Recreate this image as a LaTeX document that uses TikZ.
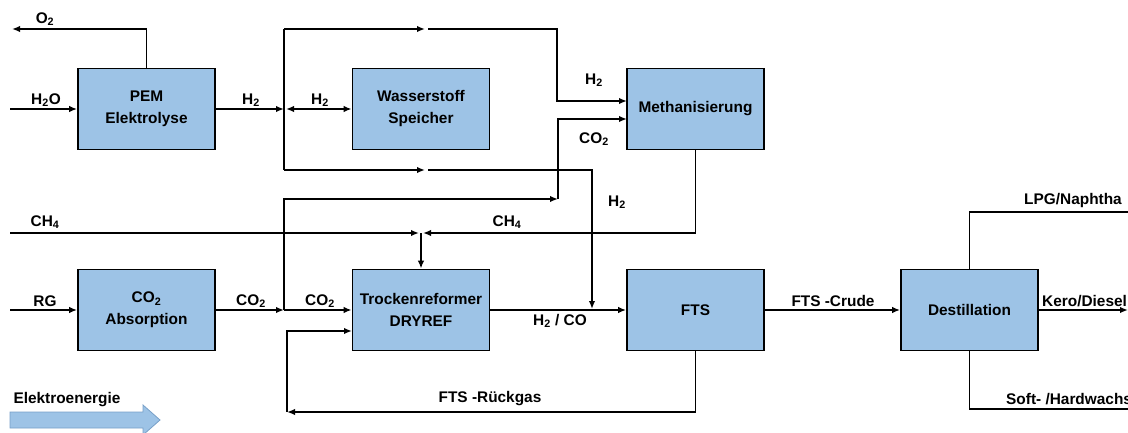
\documentclass[tikz,border=0pt]{standalone}
\usepackage{fontspec}
\setmainfont{Liberation Sans}
\usetikzlibrary{arrows.meta, positioning}

\definecolor{boxblue}{RGB}{157,195,230}
\definecolor{boxedge}{RGB}{120,160,200}

\begin{document}
\begin{tikzpicture}[x=1pt, y=-1pt,
        every node/.style={font=\fontsize{15.4}{22}\selectfont\bfseries},
        unitbox/.style={draw, line width=1.8pt, fill=boxblue, minimum width=137pt, minimum height=81pt, align=center, inner sep=2pt},
        flow/.style={line width=1.6pt, -{Latex[length=8pt, width=6.5pt]}},
        pipe/.style={line width=1.6pt},
        lbl/.style={inner sep=1pt}]
        % Page frame (same size as the reference)
        \useasboundingbox (0,0) rectangle (1128,433);

        % Process units
        \node[unitbox] (pem) at (146.5,109) {PEM\\Elektrolyse};
        \node[unitbox] (speicher) at (421,109) {Wasserstoff\\Speicher};
        \node[unitbox] (meth) at (695.5,109) {Methanisierung};
        \node[unitbox] (absorb) at (146.5,310) {CO\textsubscript{2}\\Absorption};
        \node[unitbox] (dryref) at (421,310) {Trockenreformer\\DRYREF};
        \node[unitbox] (fts) at (695.5,310) {FTS};
        \node[unitbox] (destill) at (969.5,310) {Destillation};

        % Junctions and free line ends
        \coordinate (o2end) at (12,29);
        \coordinate (h2oin) at (10,109);
        \coordinate (rgin) at (10,310);
        \coordinate (ch4in) at (10,233);
        \coordinate (jH) at (284,109);    % H2 header
        \coordinate (jHr) at (286,109);
        \coordinate (h2top) at (284,29);
        \coordinate (h2bot) at (284,170);
        \coordinate (gapTa) at (425,29);  % line jump, top
        \coordinate (gapTb) at (428,29);
        \coordinate (gapBa) at (425,170); % line jump, bottom
        \coordinate (gapBb) at (428,170);
        \coordinate (cornerT) at (557,29);
        \coordinate (cornerB) at (592,170);
        \coordinate (methH2) at (627,101);
        \coordinate (methCO2) at (627,119);
        \coordinate (mixH2) at (592,309);
        \coordinate (co2j) at (284,310);
        \coordinate (co2turn) at (558,199);
        \coordinate (ch4L) at (419,233);
        \coordinate (ch4R) at (423,233);
        \coordinate (ch4mix) at (421,233);
        \coordinate (rcL) at (287,412);
        \coordinate (rcIn) at (352,331);
        \coordinate (lpgEnd) at (1128,212);
        \coordinate (keroEnd) at (1128,310);
        \coordinate (waxEnd) at (1128,409);

        % Electrolysis and hydrogen header
        \draw[pipe, -{Latex[length=8pt, width=6.5pt]}] (pem.north) |- (o2end);
        \draw[flow] (h2oin) -- (pem.west);
        \draw[flow] (pem.east) -- (jH);
        \draw[pipe] (h2top) -- (h2bot);
        \draw[pipe, {Latex[length=8pt, width=6.5pt]}-{Latex[length=8pt, width=6.5pt]}] (jHr) -- (speicher.west);
        \draw[flow] (h2top) -- (gapTa);
        \draw[flow] (gapTb) -- (cornerT) |- (methH2);
        \draw[flow] (h2bot) -- (gapBa);
        \draw[flow] (gapBb) -- (cornerB) -- (mixH2);

        % CO2 lines
        \draw[flow] (rgin) -- (absorb.west);
        \draw[flow] (absorb.east) -- (co2j);
        \draw[flow] (co2j) -- (dryref.west);
        \draw[flow] (co2j) |- (co2turn);
        \draw[flow] (co2turn) |- (methCO2);

        % Methane to the reformer
        \draw[flow] (ch4in) -- (ch4L);
        \draw[flow] (meth.south) |- (ch4R);
        \draw[flow] (ch4mix) -- (dryref.north);

        % Synthesis and recycle
        \draw[flow] (dryref.east) -- (fts.west);
        \draw[flow] (fts.east) -- (destill.west);
        \draw[flow] (fts.south) |- (rcL);
        \draw[flow] (rcL) |- (rcIn);

        % Products
        \draw[pipe] (destill.north) |- (lpgEnd);
        \draw[flow] (destill.east) -- (keroEnd);
        \draw[pipe] (destill.south) |- (waxEnd);

        % Stream labels
        \node[lbl] (lo2) at (45,19) {O\textsubscript{2}};
        \node[lbl] (lh2o) at (46,100) {H\textsubscript{2}O};
        \node[lbl] (lh2a) at (251,100) {H\textsubscript{2}};
        \node[lbl] (lh2b) at (320,100) {H\textsubscript{2}};
        \node[lbl] (lh2c) at (594,80) {H\textsubscript{2}};
        \node[lbl] (lco2a) at (594,139) {CO\textsubscript{2}};
        \node[lbl] (lh2d) at (617,202) {H\textsubscript{2}};
        \node[lbl] (lch4a) at (45,222) {CH\textsubscript{4}};
        \node[lbl] (lch4b) at (507,222) {CH\textsubscript{4}};
        \node[lbl] (lrg) at (45,301) {RG};
        \node[lbl] (lco2b) at (251,301) {CO\textsubscript{2}};
        \node[lbl] (lco2c) at (320,301) {CO\textsubscript{2}};
        \node[lbl] (lsyn) at (560,321) {H\textsubscript{2} / CO};
        \node[lbl] (lrec) at (490,399) {FTS -Rückgas};
        \node[lbl] (lcrude) at (833,301) {FTS -Crude};
        \node[lbl] (llpg) at (1073,201) {LPG/Naphtha};
        \node[lbl, anchor=west] (lkero) at (1041,301) {Kero/Diesel};
        \node[lbl, anchor=west] (lwax) at (1005,399) {Soft- /Hardwachs};

        % Energy input arrow
        \draw[boxedge, fill=boxblue, line width=0.8pt] (10,412) -- (143,412) -- (143,405) -- (160,420) -- (143,435) -- (143,428) -- (10,428) -- cycle;
        \node[lbl] (lel) at (67,400) {Elektroenergie};

\end{tikzpicture}
\end{document}
